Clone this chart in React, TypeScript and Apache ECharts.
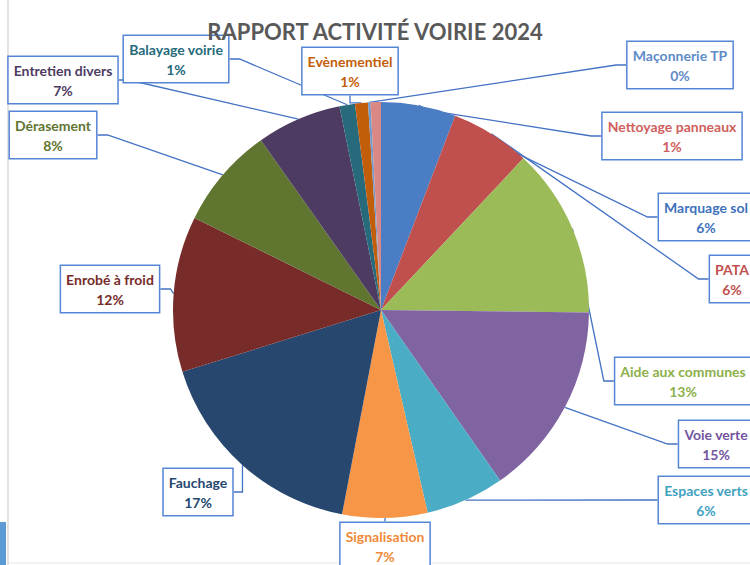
import React, { useEffect, useRef } from "react";
import * as echarts from "echarts";

const titleText = "RAPPORT ACTIVITÉ VOIRIE 2024";
const categories = [
  "Marquage sol",
  "PATA",
  "Aide aux communes",
  "Voie verte",
  "Espaces verts",
  "Signalisation",
  "Fauchage",
  "Enrobé à froid",
  "Dérasement",
  "Entretien divers",
  "Balayage voirie",
  "Evènementiel",
  "Maçonnerie TP",
  "Nettoyage panneaux",
];
const values = [5.8, 6.2, 13.2, 15.1, 6.1, 6.6, 17.2, 12.1, 7.9, 6.6, 1.2, 1.0, 0.2, 0.8];
const colors = [
  "#4A7DC4", "#C0504D", "#9BBB59", "#8064A2", "#4BACC6", "#F79646",
  "#27476F", "#772C2A", "#5F7530", "#4D3B62", "#276A7C", "#C25E0A",
  "#729ACA", "#D98885",
];
const labelColors = [
  "#3F72BD", "#C0504D", "#8DB04A", "#7254A0", "#3FA2BF", "#F08A3A",
  "#27476F", "#772C2A", "#5F7530", "#4D3B62", "#276A7C", "#C25E0A",
  "#5F8BC8", "#D0605D",
];
// label box centres (layout only)
const labelPos: number[][] = [
  [706, 217], [732, 279], [683, 381], [716, 444], [706, 500], [385, 546],
  [198, 492], [110, 289], [53, 135], [63, 80], [176, 59], [350, 71],
  [680, 65], [672, 136],
];

export default function App() {
  const ref = useRef<HTMLDivElement>(null);
  useEffect(() => {
    if (!ref.current) return;
    const chart = echarts.init(ref.current, null, { renderer: "svg" });
    chart.setOption({
      animation: false,
      backgroundColor: "#ffffff",
      title: {
        text: titleText,
        left: "center",
        top: 15,
        textStyle: {
          fontFamily: "Lato",
          fontWeight: "bold",
          fontSize: 22,
          color: "#595959",
        },
      },
      graphic: [
        { type: "line", shape: { x1: 8, y1: 0, x2: 8, y2: 565 }, style: { stroke: "#DADADA", lineWidth: 1.5 }, silent: true },
        { type: "line", shape: { x1: 8, y1: 563, x2: 750, y2: 563 }, style: { stroke: "#E6E6E6", lineWidth: 1 }, silent: true },
        { type: "rect", shape: { x: 0, y: 522, width: 6, height: 43 }, style: { fill: "#5B9BD5" }, silent: true },
      ],
      series: [
        {
          type: "pie",
          center: [381, 310],
          radius: [0, 208],
          startAngle: 90,
          clockwise: true,
          avoidLabelOverlap: false,
          percentPrecision: 0,
          data: categories.map((name, i) => ({
            name,
            value: values[i],
            itemStyle: { color: colors[i] },
            label: { color: labelColors[i] },
          })),
          label: {
            show: true,
            position: "outside",
            formatter: "{b}\n{d}%",
            fontFamily: "Lato",
            fontWeight: "bold",
            fontSize: 14,
            lineHeight: 20,
            backgroundColor: "#ffffff",
            borderColor: "#5585D5",
            borderWidth: 1.5,
            padding: [3, 5, 3, 5],
          },
          labelLine: {
            show: true,
            length: 10,
            length2: 10,
            lineStyle: { color: "#4472C4", width: 1.3 },
          },
          labelLayout: (params: any) => {
            const p = labelPos[params.dataIndex];
            return {
              x: p[0],
              y: p[1],
              align: "center",
              verticalAlign: "middle",
              hideOverlap: false,
            };
          },
        },
      ],
    });
    return () => chart.dispose();
  }, []);
  return (
    <div
      ref={ref}
      style={{ position: "fixed", left: 0, top: 0, width: 750, height: 565 }}
    />
  );
}
